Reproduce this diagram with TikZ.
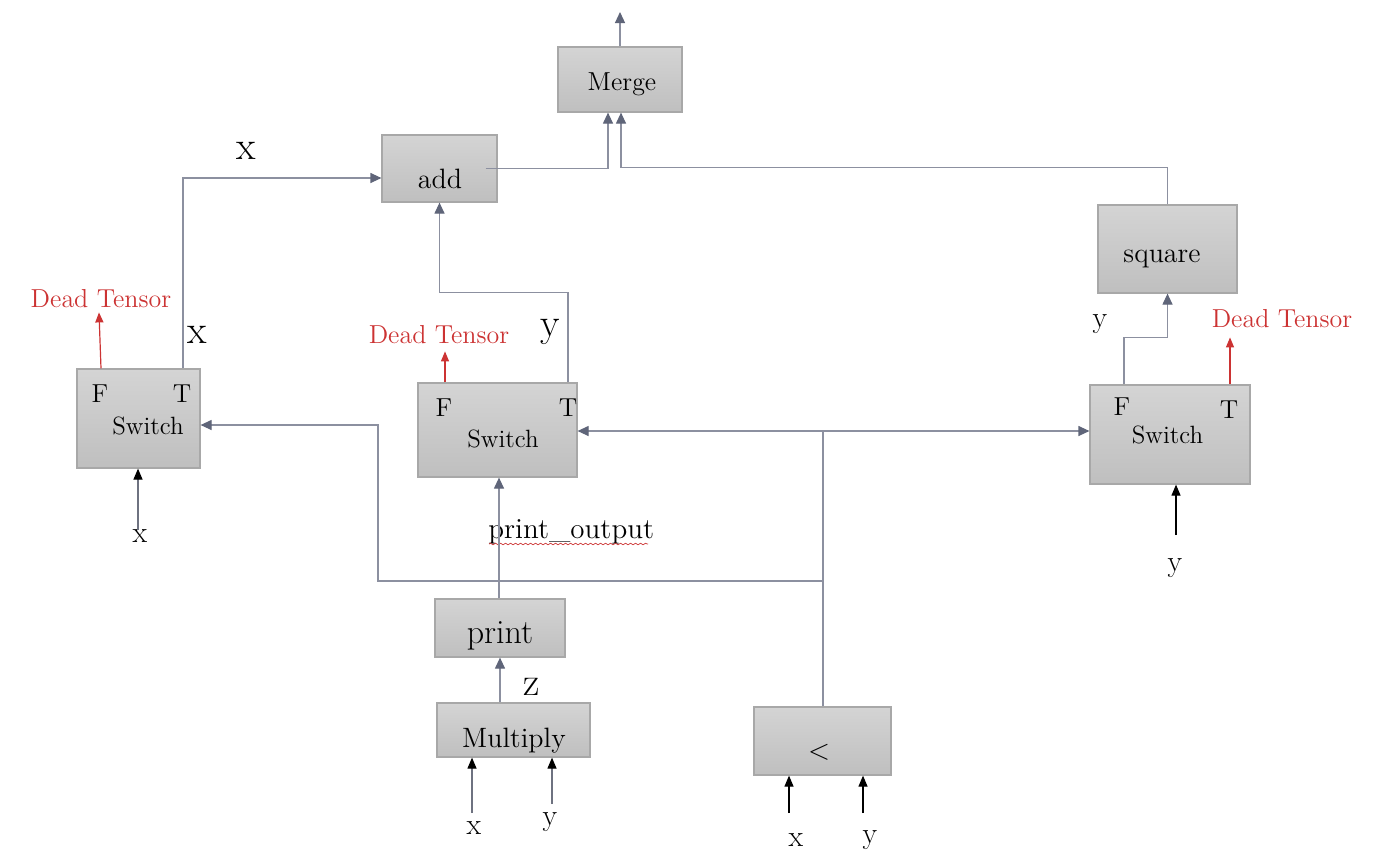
\documentclass[tikz,border=0pt]{standalone}
\usetikzlibrary{arrows.meta,decorations.pathmorphing}
\definecolor{lineg}{HTML}{8C90A0}
\definecolor{tipg}{HTML}{5F6579}
\definecolor{deadred}{HTML}{CC3333}
\definecolor{boxtop}{HTML}{D4D4D4}
\definecolor{boxbot}{HTML}{BFBFBF}
\definecolor{boxedge}{HTML}{A8A8A8}
\definecolor{ingray}{HTML}{6E7280}
\begin{document}
\begin{tikzpicture}[x=0.5pt,y=-0.5pt,
  box/.style={draw=boxedge, line width=0.6pt, top color=boxtop, bottom color=boxbot, inner sep=0pt},
  conn/.style={draw=lineg, line width=0.6pt, -{Triangle[width=5pt,length=5.5pt,color=tipg]}},
  plain/.style={draw=lineg, line width=0.6pt},
  deadarrow/.style={draw=deadred, line width=0.6pt, -{Triangle[width=4pt,length=5pt]}},
  inarrow/.style={draw=black, line width=0.6pt, -{Triangle[width=4.5pt,length=5.5pt]}},
  ingarrow/.style={draw=ingray, line width=0.6pt, -{Triangle[width=4.5pt,length=5.5pt,color=black]}},
  txt/.style={anchor=base, inner sep=0pt, text=black},
  deadtxt/.style={anchor=base, inner sep=0pt, text=deadred, font=\fontsize{13}{15}\selectfont},
  sw/.style={txt, font=\fontsize{12.5}{14}\selectfont},
  ft/.style={txt, font=\fontsize{13}{15}\selectfont},
  big/.style={txt, font=\fontsize{20}{22}\selectfont},
  small/.style={txt, font=\fontsize{15}{17}\selectfont}
]
\path[use as bounding box] (0,0) rectangle (1400,858);

% boxes
\node[box, minimum width=62pt, minimum height=32.5pt] (merge) at (620,79.5) {};
\node[box, minimum width=57.5pt, minimum height=33.5pt] (add) at (439.5,168.5) {};
\node[box, minimum width=69.5pt, minimum height=44pt] (square) at (1167.5,249) {};
\node[box, minimum width=61.5pt, minimum height=49.5pt] (swL) at (138.5,418.5) {};
\node[box, minimum width=79.5pt, minimum height=47pt] (swM) at (497.5,430) {};
\node[box, minimum width=80pt, minimum height=49.5pt] (swR) at (1170,434.5) {};
\node[box, minimum width=65pt, minimum height=29pt] (print) at (500,628) {};
\node[box, minimum width=76.5pt, minimum height=27pt] (mult) at (513.5,730) {};
\node[box, minimum width=68.5pt, minimum height=34pt] (lt) at (822.5,741) {};

% box texts
\node[txt, font=\fontsize{13}{15}\selectfont] (mergetxt) at (622,90) {Merge};
\node[txt, font=\fontsize{14}{16}\selectfont] (addtxt) at (440,188) {add};
\node[txt, font=\fontsize{14}{16}\selectfont] (squaretxt) at (1162,262) {square};
\node[txt, font=\fontsize{17}{19}\selectfont] (printtxt) at (500,643) {print};
\node[txt, font=\fontsize{14}{16}\selectfont] (multtxt) at (514,747) {Multiply};
\node[anchor=center, inner sep=0pt, font=\fontsize{14}{16}\selectfont] (lttxt) at (819,752) {$<$};

% switch texts
\node[sw] (swLtxt) at (148,434) {Switch};
\node[ft] (swLF) at (100,402) {F};
\node[ft] (swLT) at (182,402) {T};
\node[sw] (swMtxt) at (503,447) {Switch};
\node[ft] (swMF) at (444,416) {F};
\node[ft] (swMT) at (568,416) {T};
\node[sw] (swRtxt) at (1167.5,443) {Switch};
\node[ft] (swRF) at (1122,415) {F};
\node[ft] (swRT) at (1229,418) {T};

% dead tensor labels
\node[deadtxt] (deadL) at (101,307) {Dead Tensor};
\node[deadtxt] (deadM) at (439,343) {Dead Tensor};
\node[deadtxt] (deadR) at (1282,327) {Dead Tensor};

% edge labels
\node[big] (lx1) at (246,159) {x};
\node[big] (lx2) at (197,343) {x};
\node[big] (ly1) at (550,336) {y};
\node[big] (lz) at (532,695) {z};
\node[small] (ly2) at (1100,327) {y};
\node[txt, anchor=base west, font=\fontsize{14.5}{16}\selectfont] (pout) at (488,538) {print\_output};
\draw[deadred, line width=0.35pt, decorate, decoration={snake, amplitude=0.4pt, segment length=2.5pt}] (489,544) -- (648,544);

% input labels
\node[small] (inLxt) at (140,542) {x};
\node[small] (inRyt) at (1175,571) {y};
\node[small] (inMxt) at (474,834) {x};
\node[small] (inMyt) at (550,825) {y};
\node[small] (inCxt) at (796,846) {x};
\node[small] (inCyt) at (870,843) {y};

% coordinates
\coordinate (mout) at (620,12);
\coordinate (j1) at (823,431);
\coordinate (j2) at (823,581);
\coordinate (j3) at (378,425);
\coordinate (inLx) at (138,530);
\coordinate (inRy) at (1176,535);
\coordinate (inMx) at (472,813);
\coordinate (inMy) at (552,804);
\coordinate (inCx) at (789,813);
\coordinate (inCy) at (863,813);

% connectors
\draw[conn] (merge.north) -- (mout);
\draw[conn] ([xshift=-6pt]add.east) -| ([xshift=-6pt]merge.south);
\draw[conn] (square.north) -- ++(0,-37) -| ([xshift=0.5pt]merge.south);
\draw[conn] ([xshift=22.25pt]swL.north) |- ([yshift=-4.75pt]add.west);
\draw[conn] ([xshift=35.25pt]swM.north) -- ++(0,-90) -| (add.south);
\draw[conn] ([xshift=-23pt]swR.north) -- ++(0,-47) -| (square.south);

\draw[deadarrow] ([xshift=-18.75pt]swL.north) -- ++(-2,-56);
\draw[deadarrow] ([xshift=-26.25pt]swM.north) -- ++(0,-31);
\draw[deadarrow] ([xshift=30pt]swR.north) -- ++(0,-47);

\draw[conn] ([xshift=-0.5pt]print.north) -- ([xshift=-0.5pt]print.north |- swM.south);
\draw[conn] (mult.north -| print.south) -- (print.south);

\draw[plain] (lt.north -| j1) -- (j1);
\draw[conn] (j1) -- (swM.east |- j1);
\draw[conn] (j1) -- (swR.west |- j1);
\draw[conn] (j2) -| (j3) -- (swL.east |- j3);

\draw[ingarrow] (inLx) -- (inLx |- swL.south);
\draw[inarrow] (inRy) -- (inRy |- swR.south);
\draw[ingarrow] (inMx) -- (inMx |- mult.south);
\draw[ingarrow] (inMy) -- (inMy |- mult.south);
\draw[inarrow] (inCx) -- (inCx |- lt.south);
\draw[inarrow] (inCy) -- (inCy |- lt.south);
\end{tikzpicture}
\end{document}
